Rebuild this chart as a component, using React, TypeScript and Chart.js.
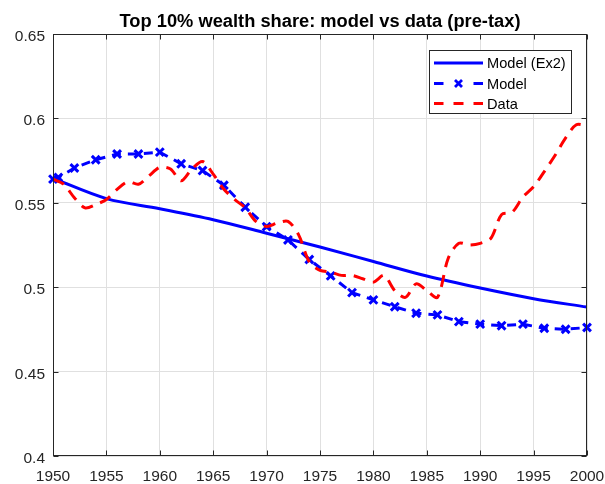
import React, { useEffect, useRef } from "react";
import { Chart, registerables } from "chart.js";

Chart.register(...registerables);

const titleText = "Top 10% wealth share: model vs data (pre-tax)";
const legendLabels = ["Model (Ex2)", "Model", "Data"];

const ex2Years = [1950, 1955, 1960, 1965, 1970, 1975, 1980, 1985, 1990, 1995, 2000];
const ex2Share = [0.5645, 0.5525, 0.5465, 0.54, 0.532, 0.5238, 0.5152, 0.5066, 0.4995, 0.4932, 0.4882];

const modelYears = [1950, 1950.5, 1952, 1954, 1956, 1958, 1960, 1962, 1964, 1966, 1968, 1970, 1972, 1974, 1976, 1978, 1980, 1982, 1984, 1986, 1988, 1990, 1992, 1994, 1996, 1998, 2000];
const modelShare = [0.564, 0.565, 0.5706, 0.5755, 0.5789, 0.5789, 0.58, 0.5731, 0.5691, 0.5604, 0.5474, 0.5359, 0.528, 0.5164, 0.5067, 0.4968, 0.4925, 0.4884, 0.4846, 0.4836, 0.4796, 0.4781, 0.4772, 0.4781, 0.4757, 0.4751, 0.4761];

const dataYears = [1950, 1951, 1952, 1953, 1954, 1955, 1956, 1957, 1958, 1959, 1960, 1961, 1962, 1963, 1964, 1965, 1966, 1967, 1968, 1969, 1970, 1971, 1972, 1973, 1974, 1975, 1976, 1977, 1978, 1979, 1980, 1981, 1982, 1983, 1984, 1985, 1986, 1987, 1988, 1989, 1990, 1991, 1992, 1993, 1994, 1995, 1996, 1997, 1998, 1999, 2000];
const dataShare = [0.564, 0.561, 0.553, 0.547, 0.549, 0.552, 0.558, 0.5625, 0.561, 0.566, 0.571, 0.57, 0.563, 0.57, 0.5745, 0.567, 0.558, 0.552, 0.547, 0.539, 0.536, 0.538, 0.539, 0.531, 0.515, 0.51, 0.509, 0.507, 0.507, 0.505, 0.503, 0.507, 0.498, 0.494, 0.502, 0.498, 0.494, 0.517, 0.526, 0.525, 0.526, 0.529, 0.543, 0.5445, 0.5535, 0.5595, 0.5685, 0.578, 0.5885, 0.5962, 0.5956];

const xTicks = [1950, 1955, 1960, 1965, 1970, 1975, 1980, 1985, 1990, 1995, 2000];
const xTickLabels = ["1950", "1955", "1960", "1965", "1970", "1975", "1980", "1985", "1990", "1995", "2000"];
const yTicks = [0.4, 0.45, 0.5, 0.55, 0.6, 0.65];
const yTickLabels = ["0.4", "0.45", "0.5", "0.55", "0.6", "0.65"];

const BLUE = "#0000ff";
const RED = "#ff0000";
const AXIS = "#262626";
const FONT = "'Liberation Sans', Arial, Helvetica, sans-serif";

const toPoints = (xs: number[], ys: number[]) => xs.map((x, i) => ({ x, y: ys[i] }));

function drawCross(ctx: CanvasRenderingContext2D, cx: number, cy: number, h: number) {
  ctx.beginPath();
  ctx.moveTo(cx - h, cy - h);
  ctx.lineTo(cx + h, cy + h);
  ctx.moveTo(cx - h, cy + h);
  ctx.lineTo(cx + h, cy - h);
  ctx.stroke();
}

const matlabPlugin = {
  id: "matlabDecor",
  afterDraw(chart: any) {
    const { ctx, chartArea: a, scales } = chart;
    const xs = scales.x;
    const ys = scales.y;
    ctx.save();
    ctx.setLineDash([]);
    // axes box
    ctx.strokeStyle = AXIS;
    ctx.lineWidth = 1;
    const L = Math.round(a.left) + 0.5;
    const R = Math.round(a.right) - 0.5;
    const T = Math.round(a.top) + 0.5;
    const B = Math.round(a.bottom) - 0.5;
    ctx.strokeRect(L, T, R - L, B - T);
    // inward ticks
    ctx.beginPath();
    xTicks.forEach((v) => {
      const px = Math.round(xs.getPixelForValue(v)) + 0.5;
      ctx.moveTo(px, B);
      ctx.lineTo(px, B - 5);
      ctx.moveTo(px, T);
      ctx.lineTo(px, T + 5);
    });
    yTicks.forEach((v) => {
      const py = Math.round(ys.getPixelForValue(v)) + 0.5;
      ctx.moveTo(L, py);
      ctx.lineTo(L + 5, py);
      ctx.moveTo(R, py);
      ctx.lineTo(R - 5, py);
    });
    ctx.stroke();
    // tick labels
    ctx.fillStyle = AXIS;
    ctx.font = `15.5px ${FONT}`;
    ctx.textBaseline = "alphabetic";
    ctx.textAlign = "center";
    xTicks.forEach((v, i) => {
      ctx.fillText(xTickLabels[i], xs.getPixelForValue(v), a.bottom + 25);
    });
    ctx.textAlign = "right";
    yTicks.forEach((v, i) => {
      ctx.fillText(yTickLabels[i], a.left - 8, ys.getPixelForValue(v) + 7);
    });
    // title
    ctx.fillStyle = "#000000";
    ctx.font = `bold 18.3px ${FONT}`;
    ctx.textAlign = "center";
    ctx.fillText(titleText, (a.left + a.right) / 2, 26.5);
    // legend
    const bx = 429.5, by = 50.5, bw = 142, bh = 63;
    ctx.fillStyle = "#ffffff";
    ctx.fillRect(bx, by, bw, bh);
    ctx.strokeStyle = AXIS;
    ctx.lineWidth = 1;
    ctx.strokeRect(bx, by, bw, bh);
    const rows = [63, 83.5, 103.5];
    const lx0 = 434, lx1 = 483;
    ctx.lineWidth = 3;
    ctx.lineCap = "butt";
    // row 1 solid blue
    ctx.strokeStyle = BLUE;
    ctx.beginPath();
    ctx.moveTo(lx0, rows[0]);
    ctx.lineTo(lx1, rows[0]);
    ctx.stroke();
    // row 2 dashed blue with marker
    ctx.beginPath();
    ctx.moveTo(lx0, rows[1]);
    ctx.lineTo(lx0 + 9.5, rows[1]);
    ctx.moveTo(lx1 - 9.5, rows[1]);
    ctx.lineTo(lx1, rows[1]);
    ctx.stroke();
    ctx.lineWidth = 2.8;
    drawCross(ctx, (lx0 + lx1) / 2, rows[1], 3.5);
    // row 3 dashed red
    ctx.lineWidth = 3;
    ctx.strokeStyle = RED;
    ctx.beginPath();
    ctx.moveTo(lx0, rows[2]);
    ctx.lineTo(lx0 + 9.5, rows[2]);
    ctx.moveTo(lx0 + 19.5, rows[2]);
    ctx.lineTo(lx0 + 29.5, rows[2]);
    ctx.moveTo(lx1 - 9.5, rows[2]);
    ctx.lineTo(lx1, rows[2]);
    ctx.stroke();
    ctx.fillStyle = "#000000";
    ctx.font = `14.6px ${FONT}`;
    ctx.textAlign = "left";
    ctx.textBaseline = "middle";
    legendLabels.forEach((t, i) => ctx.fillText(t, 487, rows[i] + 1));
    ctx.restore();
  },
};

export default function App() {
  const ref = useRef<HTMLCanvasElement | null>(null);
  useEffect(() => {
    if (!ref.current) return;
    const chart = new Chart(ref.current, {
      type: "line",
      data: {
        datasets: [
          {
            label: legendLabels[2],
            data: toPoints(dataYears, dataShare),
            borderColor: RED,
            backgroundColor: RED,
            borderWidth: 3,
            borderDash: [12, 8],
            pointRadius: 0,
            tension: 0.3,
            fill: false,
          },
          {
            label: legendLabels[1],
            data: toPoints(modelYears, modelShare),
            borderColor: BLUE,
            backgroundColor: BLUE,
            borderWidth: 3,
            borderDash: [9, 7],
            pointStyle: "crossRot",
            pointRadius: 5.5,
            pointBorderWidth: 3,
            pointBorderColor: BLUE,
            pointHoverRadius: 5.5,
            tension: 0,
            fill: false,
            clip: 8,
          },
          {
            label: legendLabels[0],
            data: toPoints(ex2Years, ex2Share),
            borderColor: BLUE,
            backgroundColor: BLUE,
            borderWidth: 3,
            pointRadius: 0,
            cubicInterpolationMode: "monotone",
            fill: false,
          },
        ],
      } as any,
      options: {
        animation: false,
        responsive: false,
        devicePixelRatio: 1,
        layout: { padding: { left: 53, top: 34, right: 18, bottom: 28 } },
        plugins: {
          legend: { display: false },
          title: { display: false },
          tooltip: { enabled: false },
        },
        events: [],
        scales: {
          x: {
            type: "linear",
            min: 1950,
            max: 2000,
            border: { display: false },
            grid: { color: "#e0e0e0", lineWidth: 1, drawTicks: false },
            ticks: { display: false, stepSize: 5 },
            afterBuildTicks: (s: any) => {
              s.ticks = xTicks.map((v) => ({ value: v }));
            },
          },
          y: {
            type: "linear",
            min: 0.4,
            max: 0.65,
            border: { display: false },
            grid: { color: "#e0e0e0", lineWidth: 1, drawTicks: false },
            ticks: { display: false, stepSize: 0.05 },
            afterBuildTicks: (s: any) => {
              s.ticks = yTicks.map((v) => ({ value: v }));
            },
          },
        },
      } as any,
      plugins: [matlabPlugin],
    });
    return () => chart.destroy();
  }, []);
  return (
    <div style={{ position: "absolute", left: 0, top: 0, width: 605, height: 484, background: "#ffffff" }}>
      <canvas ref={ref} width={605} height={484} style={{ display: "block" }} />
    </div>
  );
}
